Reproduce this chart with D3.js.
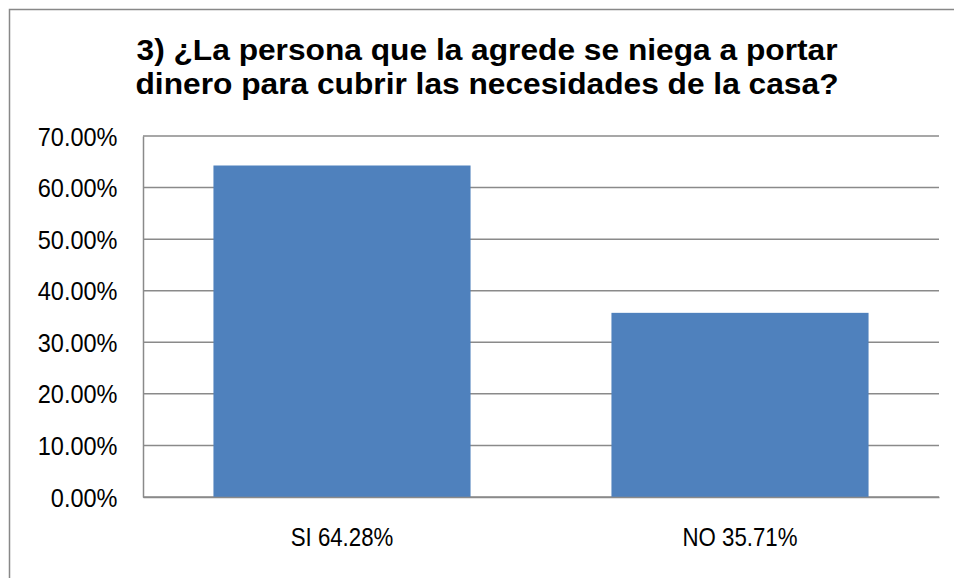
<!DOCTYPE html>
<html><head><meta charset="utf-8">
<script src="https://cdn.jsdelivr.net/npm/d3@7"></script>
<style>body{margin:0;background:#fff;}svg{display:block;}</style>
</head><body>
<svg id="c" width="954" height="578"></svg>
<script>
const titleLines = ["3) ¿La persona que la agrede se niega a portar", "dinero para cubrir las necesidades de la casa?"];
const categories = ["SI 64.28%", "NO 35.71%"];
const values = [0.6428, 0.3571];
const yTicks = [0, 0.1, 0.2, 0.3, 0.4, 0.5, 0.6, 0.7];

const svg = d3.select("#c");
const m = {left: 143, right: 939, top: 136, bottom: 497};
const tickFont = "'Liberation Sans', Arial, sans-serif";

svg.append("rect").attr("x", 9.5).attr("y", 9.5).attr("width", 960).attr("height", 600)
  .attr("fill", "#fff").attr("stroke", "#888").attr("stroke-width", 1.5);

const x = d3.scaleBand().domain(categories).range([m.left, m.right]).paddingInner(0.354).paddingOuter(0.177);
const y = d3.scaleLinear().domain([0, 0.7]).range([m.bottom, m.top]);

function squeeze(sel, f) {
  sel.each(function() {
    const L = this.getComputedTextLength();
    d3.select(this).attr("textLength", L * f).attr("lengthAdjust", "spacingAndGlyphs");
  });
}

// gridlines
svg.append("g").selectAll("line").data(yTicks).join("line")
  .attr("x1", m.left).attr("x2", m.right)
  .attr("y1", d => y(d)).attr("y2", d => y(d))
  .attr("stroke", "#8a8a8a").attr("stroke-width", 1.5);

// y axis
const yAxis = svg.append("g").attr("transform", `translate(${m.left},0)`)
  .call(d3.axisLeft(y).tickValues(yTicks).tickFormat(d3.format(".2%")).tickSize(0).tickPadding(25.5));
yAxis.select(".domain").attr("stroke", "#8a8a8a").attr("stroke-width", 1.5);
yAxis.selectAll("text").attr("font-family", tickFont).attr("font-size", 25).attr("fill", "#000")
  .attr("dy", "0.36em").call(squeeze, 0.94);

// bars
svg.append("g").selectAll("rect").data(values).join("rect")
  .attr("x", (d, i) => x(categories[i]))
  .attr("width", x.bandwidth())
  .attr("y", d => y(d))
  .attr("height", d => y(0) - y(d))
  .attr("fill", "#4F81BD");

// x axis
const xAxis = svg.append("g").attr("transform", `translate(0,${m.bottom})`)
  .call(d3.axisBottom(x).tickSize(0).tickPadding(31));
xAxis.select(".domain").attr("stroke", "#8a8a8a").attr("stroke-width", 1.5);
xAxis.selectAll("text").attr("font-family", tickFont).attr("font-size", 25).attr("fill", "#000")
  .call(squeeze, 0.89);

// title
svg.append("g").selectAll("text").data(titleLines).join("text")
  .attr("x", 487).attr("y", (d, i) => 59.5 + i * 34)
  .attr("text-anchor", "middle")
  .attr("font-family", "'Liberation Sans', Arial, sans-serif")
  .attr("font-weight", "bold").attr("font-size", 30)
  .attr("fill", "#000").text(d => d)
  .each(function(d, i) {
    const target = i === 0 ? 701 : 703;
    d3.select(this).attr("textLength", target).attr("lengthAdjust", "spacingAndGlyphs");
  });
</script>
</body></html>
